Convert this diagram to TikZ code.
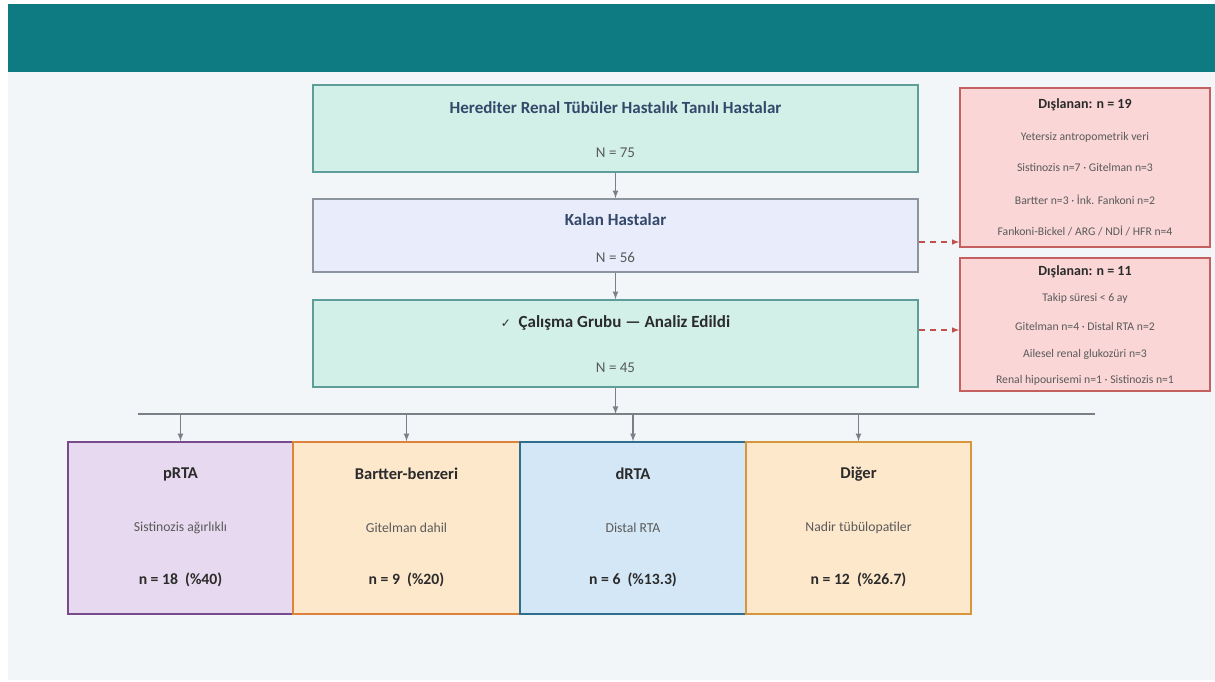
\documentclass[tikz,border=0pt]{standalone}
\usepackage{fontspec}
\setmainfont{Carlito}
\newfontfamily\symfont{DejaVu Sans}
\usetikzlibrary{calc,arrows}

\definecolor{header}{HTML}{0E7A82}
\definecolor{panel}{HTML}{F3F6F9}
\definecolor{mintfill}{HTML}{D2F0E8}
\definecolor{mintline}{HTML}{5E9E98}
\definecolor{lavfill}{HTML}{E9ECFA}
\definecolor{lavline}{HTML}{8C949E}
\definecolor{exfill}{HTML}{FAD6D6}
\definecolor{exline}{HTML}{C46060}
\definecolor{arrowgrey}{HTML}{7B8088}
\definecolor{dashred}{HTML}{C0504D}
\definecolor{titleblue}{HTML}{34486A}
\definecolor{darktext}{HTML}{2B2B2B}
\definecolor{greytext}{HTML}{5A5A5A}
\definecolor{purfill}{HTML}{E7D9EF}
\definecolor{purline}{HTML}{7A4B8C}
\definecolor{orfill}{HTML}{FDE8CC}
\definecolor{orline}{HTML}{DD843A}
\definecolor{orline2}{HTML}{D8963C}
\definecolor{bluefill}{HTML}{D4E7F6}
\definecolor{blueline}{HTML}{2F6E8C}

\begin{document}
\begin{tikzpicture}[x=1pt,y=-1pt,
    box/.style={draw,line width=1.6pt,inner sep=0pt},
    flow/.style={draw=arrowgrey,line width=1.6pt,-latex},
    skip/.style={draw=dashred,line width=1.4pt,dashed,dash pattern=on 6pt off 5pt,-latex},
    bigtitle/.style={font=\fontsize{17}{19}\selectfont\bfseries,text=titleblue},
    count/.style={font=\fontsize{15}{17}\selectfont,text=greytext},
    extitle/.style={font=\fontsize{14}{16}\selectfont\bfseries,text=darktext},
    exline/.style={font=\fontsize{11.7}{13}\selectfont,text=greytext},
    grptitle/.style={font=\fontsize{16.5}{18}\selectfont\bfseries,text=darktext},
    grpsub/.style={font=\fontsize{13.7}{15}\selectfont,text=greytext},
    grpcount/.style={font=\fontsize{15.7}{17}\selectfont\bfseries,text=darktext}]
\useasboundingbox[fill=white] (0,0) rectangle (1215,682);
\fill[panel] (8,4) rectangle (1215,680);
\fill[header] (8,4) rectangle (1215,72);

% main flow
\node[box,fill=mintfill,draw=mintline,minimum width=605pt,minimum height=87pt] (herediter) at (615.5,128.5) {};
\node[box,fill=lavfill,draw=lavline,minimum width=605pt,minimum height=73pt] (kalan) at (615.5,235.5) {};
\node[box,fill=mintfill,draw=mintline,minimum width=605pt,minimum height=87pt] (calisma) at (615.5,343.5) {};

\node[bigtitle] (herediterT) at (615.5,108) {Herediter Renal Tübüler Hastalık Tanılı Hastalar};
\node[count] (herediterN) at (615.5,153) {N = 75};
\node[bigtitle] (kalanT) at (615.5,220) {Kalan Hastalar};
\node[count] (kalanN) at (615.5,257) {N = 56};
\node[bigtitle,text=darktext] (calismaT) at (615.5,323) {{\symfont\fontsize{12}{14}\selectfont\mdseries ✓}\ \ Çalışma Grubu — Analiz Edildi};
\node[count] (calismaN) at (615.5,368) {N = 45};

% excluded
\node[box,fill=exfill,draw=exline,minimum width=250pt,minimum height=159pt] (excl1) at (1085,167.5) {};
\node[box,fill=exfill,draw=exline,minimum width=250pt,minimum height=133pt] (excl2) at (1085,324.5) {};

\node[extitle] (excl1T) at (1085,105) {Dışlanan: n = 19};
\node[exline] (excl1a) at (1085,137) {Yetersiz antropometrik veri};
\node[exline] (excl1b) at (1085,167) {Sistinozis n=7 · Gitelman n=3};
\node[exline] (excl1c) at (1085,200) {Bartter n=3 · İnk. Fankoni n=2};
\node[exline] (excl1d) at (1085,231) {Fankoni-Bickel / ARG / NDİ / HFR n=4};

\node[extitle] (excl2T) at (1085,272) {Dışlanan: n = 11};
\node[exline] (excl2a) at (1085,298) {Takip süresi < 6 ay};
\node[exline] (excl2b) at (1085,326) {Gitelman n=4 · Distal RTA n=2};
\node[exline] (excl2c) at (1085,354) {Ailesel renal glukozüri n=3};
\node[exline] (excl2d) at (1085,380) {Renal hipourisemi n=1 · Sistinozis n=1};

% groups
\node[box,fill=purfill,draw=purline,minimum width=225pt,minimum height=172pt] (prta) at (180.5,528) {};
\node[box,fill=orfill,draw=orline,minimum width=227pt,minimum height=172pt] (bartter) at (406.5,528) {};
\node[box,fill=bluefill,draw=blueline,minimum width=226pt,minimum height=172pt] (drta) at (633,528) {};
\node[box,fill=orfill,draw=orline2,minimum width=225pt,minimum height=172pt] (diger) at (858.5,528) {};

\node[grptitle] (prtaT) at (180.5,474) {pRTA};
\node[grpsub] (prtaS) at (180.5,528) {Sistinozis ağırlıklı};
\node[grpcount] (prtaN) at (180.5,580) {n = 18\ \ (\%40)};
\node[grptitle] (bartterT) at (406.5,474) {Bartter-benzeri};
\node[grpsub] (bartterS) at (406.5,528) {Gitelman dahil};
\node[grpcount] (bartterN) at (406.5,580) {n = 9\ \ (\%20)};
\node[grptitle] (drtaT) at (633,474) {dRTA};
\node[grpsub] (drtaS) at (633,528) {Distal RTA};
\node[grpcount] (drtaN) at (633,580) {n = 6\ \ (\%13.3)};
\node[grptitle] (digerT) at (858.5,474) {Diğer};
\node[grpsub] (digerS) at (858.5,528) {Nadir tübülopatiler};
\node[grpcount] (digerN) at (858.5,580) {n = 12\ \ (\%26.7)};

% connectors
\coordinate (busL) at (138,414);
\coordinate (busR) at (1095,414);
\draw[flow] (herediter.south) -- (kalan.north);
\draw[flow] (kalan.south) -- (calisma.north);
\draw[draw=arrowgrey,line width=1.6pt] (busL) -- (busR);
\draw[flow] (calisma.south) -- (calisma.south |- busL);
\foreach \g in {prta,bartter,drta,diger}
  \draw[flow] (\g.north |- busL) -- (\g.north);
\draw[skip] ([yshift=-6.5pt]kalan.east) -- ([yshift=-6.5pt]kalan.east -| excl1.west);
\draw[skip] ([yshift=13.5pt]calisma.east) -- ([yshift=13.5pt]calisma.east -| excl2.west);
\end{tikzpicture}
\end{document}
